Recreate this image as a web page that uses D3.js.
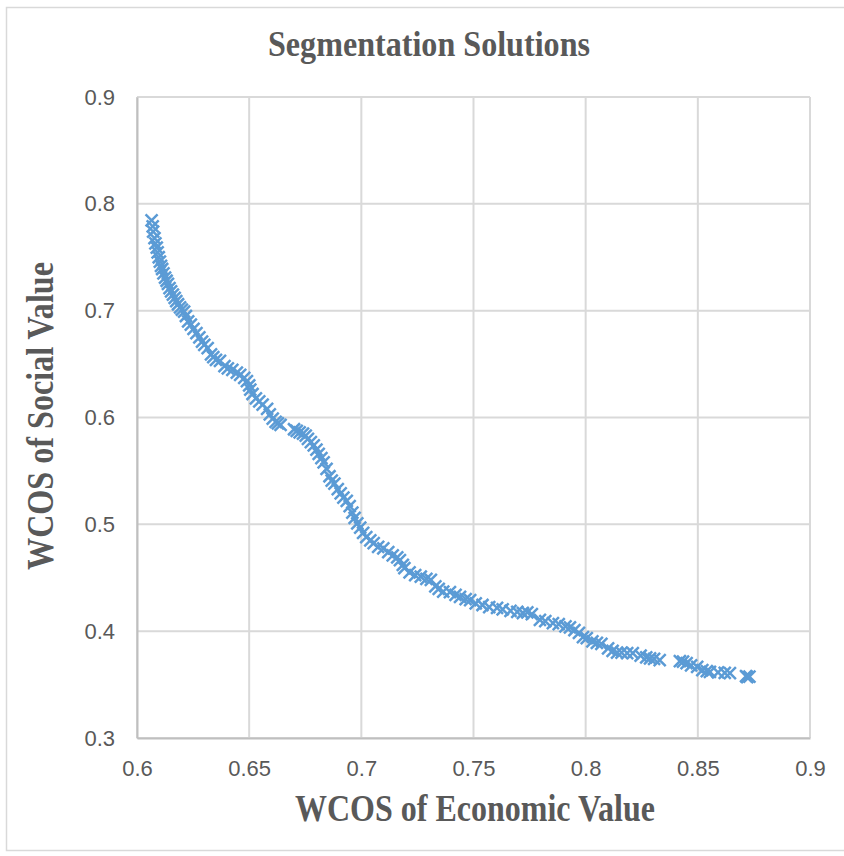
<!DOCTYPE html>
<html>
<head>
<meta charset="utf-8">
<script src="https://cdn.jsdelivr.net/npm/d3@7"></script>
<style>
  body { margin: 0; background: #fff; }
  svg { display: block; }
</style>
</head>
<body>
<div id="chart"></div>
<script>
const title = 'Segmentation Solutions';
const xLabel = 'WCOS of Economic Value';
const yLabel = 'WCOS of Social Value';
const xTicks = [0.6, 0.65, 0.7, 0.75, 0.8, 0.85, 0.9];
const yTicks = [0.3, 0.4, 0.5, 0.6, 0.7, 0.8, 0.9];

// economic value (x) of each solution
const economic = [
  0.6065, 0.6070, 0.6072, 0.6078, 0.6082, 0.6088, 0.6092, 0.6097, 0.6102, 0.6107,
  0.6112, 0.6118, 0.6125, 0.6132, 0.6138, 0.6145, 0.6152, 0.6160, 0.6168, 0.6175,
  0.6183, 0.6192, 0.6200, 0.6210, 0.6218, 0.6228, 0.6240, 0.6252, 0.6265, 0.6278,
  0.6290, 0.6300, 0.6315, 0.6330, 0.6340, 0.6352, 0.6370, 0.6390, 0.6405, 0.6425,
  0.6445, 0.6460, 0.6478, 0.6490, 0.6500, 0.6505, 0.6515, 0.6530, 0.6545, 0.6560,
  0.6580, 0.6592, 0.6605, 0.6618, 0.6628, 0.6640, 0.6700, 0.6712, 0.6725, 0.6740,
  0.6752, 0.6762, 0.6775, 0.6788, 0.6800, 0.6810, 0.6822, 0.6832, 0.6845, 0.6858,
  0.6868, 0.6880, 0.6895, 0.6908, 0.6920, 0.6935, 0.6948, 0.6960, 0.6970, 0.6982,
  0.6995, 0.7008, 0.7022, 0.7040, 0.7055, 0.7075, 0.7098, 0.7120, 0.7140, 0.7160,
  0.7172, 0.7185, 0.7192, 0.7215, 0.7240, 0.7265, 0.7290, 0.7310, 0.7330, 0.7345,
  0.7365, 0.7395, 0.7420, 0.7440, 0.7465, 0.7485, 0.7510, 0.7540, 0.7570, 0.7605,
  0.7630, 0.7665, 0.7695, 0.7720, 0.7740, 0.7760, 0.7796, 0.7820, 0.7854, 0.7880,
  0.7910, 0.7930, 0.7950, 0.7970, 0.7988, 0.8005, 0.8030, 0.8050, 0.8070, 0.8100,
  0.8120, 0.8140, 0.8160, 0.8185, 0.8210, 0.8245, 0.8270, 0.8287, 0.8305, 0.8330,
  0.8420, 0.8434, 0.8450, 0.8470, 0.8497, 0.8520, 0.8540, 0.8554, 0.8590, 0.8620,
  0.8643, 0.8715, 0.8720, 0.8730
];

// social value (y) of each solution
const social = [
  0.7845, 0.7790, 0.7740, 0.7680, 0.7630, 0.7590, 0.7545, 0.7500, 0.7460, 0.7420,
  0.7390, 0.7350, 0.7310, 0.7280, 0.7250, 0.7210, 0.7180, 0.7150, 0.7120, 0.7090,
  0.7060, 0.7030, 0.7010, 0.6990, 0.6950, 0.6900, 0.6870, 0.6830, 0.6790, 0.6750,
  0.6710, 0.6680, 0.6650, 0.6590, 0.6565, 0.6540, 0.6530, 0.6480, 0.6460, 0.6445,
  0.6420, 0.6400, 0.6370, 0.6340, 0.6300, 0.6260, 0.6220, 0.6180, 0.6150, 0.6120,
  0.6080, 0.6030, 0.5990, 0.5960, 0.5945, 0.5930, 0.5890, 0.5875, 0.5860, 0.5850,
  0.5830, 0.5800, 0.5770, 0.5740, 0.5700, 0.5660, 0.5620, 0.5580, 0.5520, 0.5450,
  0.5410, 0.5380, 0.5330, 0.5290, 0.5250, 0.5220, 0.5170, 0.5110, 0.5060, 0.5010,
  0.4970, 0.4920, 0.4880, 0.4850, 0.4825, 0.4790, 0.4775, 0.4740, 0.4710, 0.4690,
  0.4665, 0.4620, 0.4590, 0.4550, 0.4525, 0.4510, 0.4490, 0.4480, 0.4420, 0.4395,
  0.4370, 0.4365, 0.4340, 0.4320, 0.4300, 0.4290, 0.4260, 0.4245, 0.4225, 0.4217,
  0.4205, 0.4190, 0.4180, 0.4170, 0.4175, 0.4160, 0.4105, 0.4095, 0.4076, 0.4065,
  0.4045, 0.4035, 0.4010, 0.3985, 0.3945, 0.3935, 0.3905, 0.3890, 0.3880, 0.3840,
  0.3815, 0.3800, 0.3800, 0.3795, 0.3795, 0.3770, 0.3755, 0.3745, 0.3740, 0.3730,
  0.3720, 0.3715, 0.3700, 0.3680, 0.3665, 0.3635, 0.3625, 0.3618, 0.3615, 0.3610,
  0.3608, 0.3580, 0.3570, 0.3575
];

const width = 844, height = 856;
const margin = {top: 97, right: 34, bottom: 118, left: 137};
const textColor = '#595959';
const markColor = '#5b9bd5';

const svg = d3.select('#chart').append('svg')
  .attr('width', width)
  .attr('height', height);

// outer chart frame
svg.append('rect')
  .attr('x', 6.5).attr('y', 7.5)
  .attr('width', 850).attr('height', 843)
  .attr('fill', '#fff')
  .attr('stroke', '#d9d9d9')
  .attr('stroke-width', 1.5);

const x = d3.scaleLinear()
  .domain([0.6, 0.9])
  .range([margin.left, width - margin.right]);

const y = d3.scaleLinear()
  .domain([0.3, 0.9])
  .range([height - margin.bottom, margin.top]);

// gridlines
svg.append('g')
  .attr('class', 'grid')
  .selectAll('line.v')
  .data(xTicks)
  .enter().append('line')
  .attr('x1', d => x(d)).attr('x2', d => x(d))
  .attr('y1', y(0.3)).attr('y2', y(0.9))
  .attr('stroke', '#d9d9d9')
  .attr('stroke-width', 2);

svg.append('g')
  .attr('class', 'grid')
  .selectAll('line.h')
  .data(yTicks)
  .enter().append('line')
  .attr('x1', x(0.6)).attr('x2', x(0.9))
  .attr('y1', d => y(d)).attr('y2', d => y(d))
  .attr('stroke', '#d9d9d9')
  .attr('stroke-width', 2);

// axes
const xAxis = svg.append('g')
  .attr('transform', 'translate(0,' + y(0.3) + ')')
  .call(d3.axisBottom(x).tickValues(xTicks).tickSize(0).tickPadding(22)
    .tickFormat(d3.format('')));

const yAxis = svg.append('g')
  .attr('transform', 'translate(' + x(0.6) + ',0)')
  .call(d3.axisLeft(y).tickValues(yTicks).tickSize(0).tickPadding(22)
    .tickFormat(d3.format('')));

[xAxis, yAxis].forEach(axis => {
  axis.select('.domain').attr('stroke', '#bfbfbf').attr('stroke-width', 2);
  axis.selectAll('text')
    .attr('fill', textColor)
    .style('font-family', '"Liberation Sans", Arial, sans-serif')
    .style('font-size', '22px');
});

// markers (x shape)
const r = 6;
svg.append('g')
  .selectAll('path')
  .data(economic.map((e, i) => ({e, s: social[i]})))
  .enter().append('path')
  .attr('transform', d => 'translate(' + x(d.e) + ',' + y(d.s) + ')')
  .attr('d', 'M' + -r + ',' + -r + 'L' + r + ',' + r + 'M' + -r + ',' + r + 'L' + r + ',' + -r)
  .attr('stroke', markColor)
  .attr('stroke-width', 2.5)
  .attr('fill', 'none');

// titles
const serif = '"Liberation Serif", "Times New Roman", serif';

svg.append('text')
  .attr('x', 429).attr('y', 56)
  .attr('text-anchor', 'middle')
  .attr('textLength', 322)
  .attr('lengthAdjust', 'spacingAndGlyphs')
  .attr('fill', textColor)
  .style('font-family', serif)
  .style('font-weight', 'bold')
  .style('font-size', '36px')
  .text(title);

svg.append('text')
  .attr('x', 475).attr('y', 821)
  .attr('text-anchor', 'middle')
  .attr('textLength', 360)
  .attr('lengthAdjust', 'spacingAndGlyphs')
  .attr('fill', textColor)
  .style('font-family', serif)
  .style('font-weight', 'bold')
  .style('font-size', '38px')
  .text(xLabel);

svg.append('text')
  .attr('transform', 'translate(53,416) rotate(-90)')
  .attr('text-anchor', 'middle')
  .attr('textLength', 308)
  .attr('lengthAdjust', 'spacingAndGlyphs')
  .attr('fill', textColor)
  .style('font-family', serif)
  .style('font-weight', 'bold')
  .style('font-size', '38px')
  .text(yLabel);
</script>
</body>
</html>
